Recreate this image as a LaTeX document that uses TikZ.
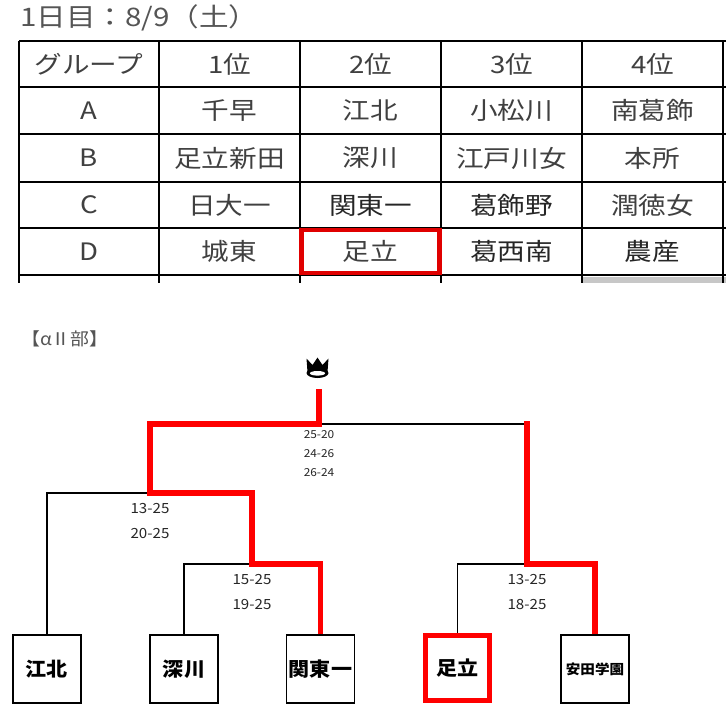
\documentclass[tikz,border=0pt]{standalone}
\usepackage{fontspec}
\newfontfamily\jp[FakeStretch=1.15]{Noto Sans CJK JP}
\newfontfamily\jpn[FakeStretch=1.08]{Noto Sans CJK JP}
\newfontfamily\jpt[FakeStretch=1.16]{Noto Sans CJK JP}
\definecolor{tgray}{HTML}{404040}
\definecolor{titlegray}{HTML}{555555}
\definecolor{wred}{HTML}{FF0000}
\definecolor{tred}{HTML}{E00000}
\tikzset{
  grid/.style={line width=2.4pt, black},
  tcell/.style={font=\jp\fontsize{24}{24}\selectfont, text=tgray, inner sep=0pt},
  tdark/.style={tcell, text=black!85},
  teambox/.style={draw=black, line width=1.5pt, minimum width=68pt, minimum height=68pt, inner sep=0pt, font=\jpn\bfseries\fontsize{19.5}{19.5}\selectfont},
  winbox/.style={draw=wred, line width=5pt, minimum width=64pt, minimum height=65pt, inner sep=0pt, font=\jpn\bfseries\fontsize{19.5}{19.5}\selectfont},
  lose/.style={draw=black, line width=1.5pt},
  win/.style={draw=wred, line width=5.5pt, line join=miter},
  score/.style={font=\jpn\fontsize{14}{14}\selectfont, text=black!85, inner sep=0pt},
  scoresm/.style={font=\jpn\fontsize{11}{11}\selectfont, text=black!85, inner sep=0pt},
}
\begin{document}
\begin{tikzpicture}[x=1pt,y=-1pt]
\useasboundingbox (0,0) rectangle (726,716);
\fill[white] (0,0) rectangle (726,716);

% title
\node[anchor=west, inner sep=0pt, font=\jpt\fontsize{25.5}{25.5}\selectfont, text=titlegray] (title) at (20,18) {1日目：8/9（土）};

% table grid
\fill[black!22] (583,276.5) rectangle (726,283);
\foreach \y in {41,87,134,182,228,275} \draw[grid] (19,\y) -- (726,\y);
\foreach \x in {19,159,300,441,582,723} \draw[grid] (\x,41) -- (\x,283);

% header
\node[tcell] (h0) at (89,64) {グループ};
\node[tcell] (h1) at (229.5,64) {1位};
\node[tcell] (h2) at (370.5,64) {2位};
\node[tcell] (h3) at (511.5,64) {3位};
\node[tcell] (h4) at (652.5,64) {4位};
% row A
\node[tcell] (a0) at (89,110.5) {A};
\node[tcell] (a1) at (229.5,110.5) {千早};
\node[tcell] (a2) at (370.5,110.5) {江北};
\node[tcell] (a3) at (511.5,110.5) {小松川};
\node[tcell] (a4) at (652.5,110.5) {南葛飾};
% row B
\node[tcell] (b0) at (89,158) {B};
\node[tcell] (b1) at (229.5,158) {足立新田};
\node[tcell] (b2) at (370.5,158) {深川};
\node[tcell] (b3) at (511.5,158) {江戸川女};
\node[tcell] (b4) at (652.5,158) {本所};
% row C
\node[tcell] (c0) at (89,205) {C};
\node[tcell] (c1) at (229.5,205) {日大一};
\node[tdark] (c2) at (370.5,205) {関東一};
\node[tdark] (c3) at (511.5,205) {葛飾野};
\node[tcell] (c4) at (652.5,205) {潤徳女};
% row D
\node[tcell] (d0) at (89,251.5) {D};
\node[tcell] (d1) at (229.5,251.5) {城東};
\node[tcell] (d2) at (370.5,251.5) {足立};
\node[tdark] (d3) at (511.5,251.5) {葛西南};
\node[tdark] (d4) at (652.5,251.5) {農産};
\draw[tred, line width=4.5pt] (301.5,230) rectangle (439.5,273);

% section label
\node[anchor=west, inner sep=0pt, font=\jpn\fontsize{17.5}{17.5}\selectfont, text=titlegray] (sec) at (21,339) {【αⅡ部】};

% crown
\fill[black] (307.5,372) -- (306.5,358.5) -- (312.5,365) -- (317.5,357.5) -- (322.5,365) -- (328.5,358.5) -- (327.5,372) -- cycle;
\fill[black] (317.5,373) ellipse (11pt and 5pt);
\fill[white] (317.5,373.3) ellipse (7.6pt and 2.3pt);
\coordinate (top) at (319,388.5);

% team boxes
\node[teambox] (kohoku) at (47,669) {江北};
\node[teambox] (fukagawa) at (184,669) {深川};
\node[teambox] (kanto) at (320.5,669) {関東一};
\node[winbox] (adachi) at (457.5,668) {足立};
\node[teambox, font=\jpn\bfseries\fontsize{13.5}{13.5}\selectfont] (yasuda) at (595,669) {安田学園};

% junctions
\coordinate (m1) at (252,564);
\coordinate (m2) at (150,493);
\coordinate (m3) at (527,564);
\coordinate (fin) at (319,424);

% losing lines
\draw[lose] (fukagawa.north) |- (m1);
\draw[lose] (kohoku.north) |- (m2);
\draw[lose] (adachi.north) |- (m3);
\draw[lose] (fin) -- (527,424);

% winning lines
\draw[win] (kanto.north) |- (m1) -- (252,493) -- (m2) |- (fin) -- (top);
\draw[win] (yasuda.north) |- (m3) -- (527,421.25);

% scores
\node[scoresm] (s1) at (319,434.5) {25-20};
\node[scoresm] (s2) at (319,453.5) {24-26};
\node[scoresm] (s3) at (319,473) {26-24};
\node[score] (s4) at (150,508) {13-25};
\node[score] (s5) at (150,533) {20-25};
\node[score] (s6) at (252,579) {15-25};
\node[score] (s7) at (252,604) {19-25};
\node[score] (s8) at (527,579) {13-25};
\node[score] (s9) at (527,604) {18-25};
\end{tikzpicture}
\end{document}
